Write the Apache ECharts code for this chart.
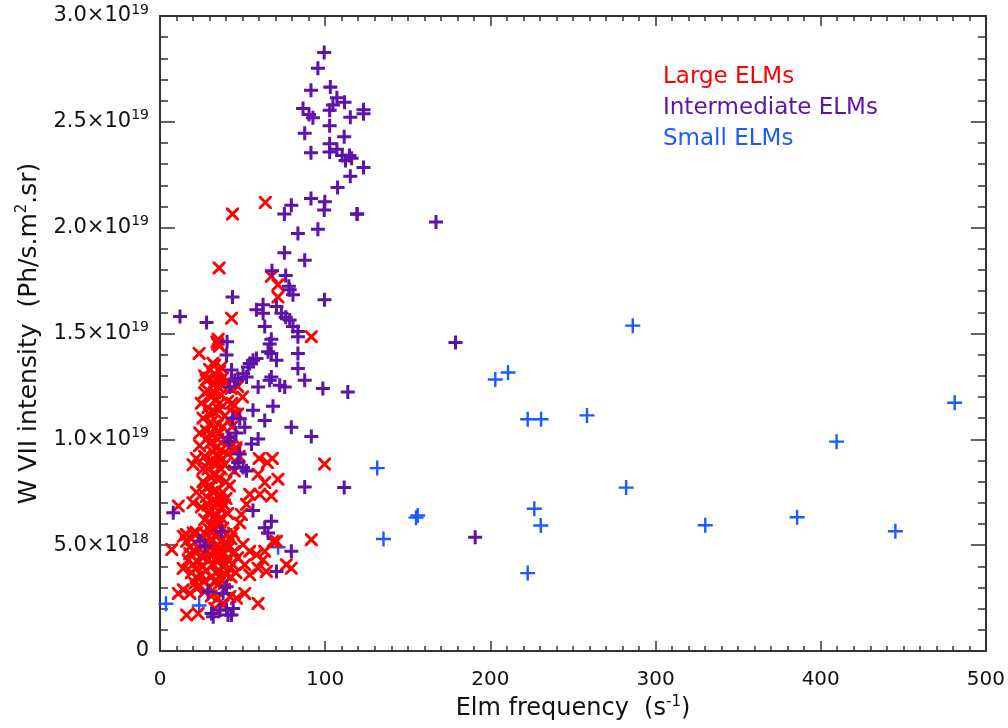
<!DOCTYPE html>
<html>
<head>
<meta charset="utf-8">
<script src="https://cdn.jsdelivr.net/npm/echarts@6/dist/echarts.min.js"></script>
<style>
html,body{margin:0;padding:0;background:#fff;}
#chart{width:1008px;height:728px;}
</style>
</head>
<body>
<div id="chart"></div>
<script>
// Intensity values are in units of 1e18 Ph/s.m^2.sr ; frequency in s^-1
const legendLabels = ['Large ELMs', 'Intermediate ELMs', 'Small ELMs'];
const seriesColors = ['#ff0000', '#5e12aa', '#1a5aff'];

const xTickLabels = ['0', '100', '200', '300', '400', '500'];
const yTickMantissa = ['0', '5.0×10', '1.0×10', '1.5×10', '2.0×10', '2.5×10', '3.0×10'];
const yTickExponent = ['', '18', '19', '19', '19', '19', '19'];

const largeElms = [
  [43.9,20.64],[63.8,21.19],[35.8,18.1],[43.3,15.72],[35.2,14.73],[35,14.5],[36,14.4],[34.5,14.6],[23.7,14.06],
  [67.4,17.7],[71.4,17.3],[71.4,16.72],[91.6,14.85],[99.6,8.83],[91.6,5.26],
  [59.4,8.35],[63.4,7.96],[71.4,8.12],[67.4,7.32],[54.3,7.4],[60.4,7.4],[52.4,6.93],[49.3,6.45],[48.3,6.05],
  [44.3,5.58],[41.2,5.03],[50.3,5.03],[54.3,4.71],[58.4,4.55],[62.4,4.31],[51.3,4.08],[59.4,3.91],[54.3,3.6],
  [64.4,3.76],[76.5,4.08],[79.5,3.91],[68.4,5.18],[70.5,5.18],[63.4,4.71],[51.3,2.72],[59.4,2.25],[42.3,2.57],
  [46.3,2.49],[38.2,2.17],[33.2,2.01],[16.1,1.7],[23.1,1.77],[11.1,2.72],[11.1,6.85],[7.1,4.79],[14.1,2.89],
  [18.1,2.72],[22.2,2.96],[14.1,5.42],[16.1,5.18],[20.1,5.58],
  [47,12.5],[43.5,11.7],[45,11.2],[43.5,10.6],[42,9.6],[46,9.6],[60,9.1],[68,9.1],[65,8.9],[20,8.8],[22,9.1],
  [30,13.3],[33,13.1],[36,13.2],[38,12.9],[28,12.8],[32,12.6],[35,12.5],[40,12.7],[43,12.4],[27,12.2],[31,12.0],
  [34,11.9],[37,12.1],[41,11.8],[45,11.6],[29,11.5],[33,11.3],[36,11.4],[39,11.1],[26,11.0],[31,10.8],[35,10.7],
  [42,10.9],[47,11.2],[50,12.0],
  [28,10.4],[32,10.2],[36,10.3],[39,10.0],[44,10.1],[30,9.8],[34,9.6],[37,9.5],[41,9.3],[27,9.2],[31,9.0],
  [35,8.9],[39,8.8],[46,9.5],[24,9.7],
  [29,8.6],[33,8.4],[36,8.2],[40,8.0],[26,8.0],[30,7.8],[34,7.6],[38,7.5],[42,7.8],[28,7.3],[32,7.1],[35,7.0],
  [39,6.9],[25,6.8],[30,6.6],[34,6.4],[37,6.3],[41,6.5],[27,6.2],[31,6.0],[35,5.9],[22,7.5],[20,7.0],[45,8.5],[48,9.2],
  [16,5.5],[19,5.3],[22,5.6],[25,5.4],[28,5.5],[31,5.3],[34,5.4],[37,5.2],[40,5.5],[43,5.3],[18,4.9],[21,4.7],
  [24,4.8],[27,4.6],[30,4.9],[33,4.7],[36,4.8],[39,4.6],[42,4.9],[45,4.7],[17,4.3],[20,4.1],[23,4.2],[26,4.0],
  [29,4.3],[32,4.1],[35,4.2],[38,4.0],[41,4.3],[44,4.1],[47,4.4],[19,3.7],[22,3.5],[25,3.6],[28,3.8],[31,3.5],
  [34,3.7],[37,3.4],[40,3.6],[43,3.5],[14,3.9],[24,3.1],[30,3.0],[36,3.2],[27,2.8],
  [30,12.9],[34,12.8],[37,12.6],[29,12.3],[33,12.2],[36,11.7],[30,11.2],[38,10.6],[33,10.5],[29,10.1],[35,10.0],
  [32,9.4],[36,9.2],[29,8.9],[33,8.8],[37,8.6],[31,8.2],[35,8.1],[28,7.7],[32,7.5],[36,7.3],[40,7.2],[29,6.9],
  [33,6.8],[37,6.7],[32,6.3],[36,6.1],[29,5.8],[33,5.7],[38,5.8],[27,5.1],[30,5.1],[35,5.0],[39,5.1],[26,4.4],
  [31,4.5],[34,4.4],[37,4.5],[40,4.1],[22,3.9],[27,3.3],[33,3.3],[39,3.2],[42,3.9],[35,3.8],[21,3.2],[18,4.6],
  [25,4.5],[44,4.6],[46,3.7],[31,2.6],[35,2.5],[39,2.9],[33,13.5],[37,13.4],[32,13.6],[27,13.0],[25,11.7],
  [24,10.3],[26,8.6]
];

const intermediateElms = [
  [99.4,28.27],[95.6,27.53],[91.4,26.49],[103.1,26.64],[107.1,26.14],[111.7,25.92],[86.6,25.63],[90.2,25.35],
  [92.6,25.19],[102.7,25.55],[104.7,25.79],[115.2,25.22],[123.2,25.57],[123.2,25.38],[102.7,24.81],[87.6,24.46],
  [111.5,24.3],[91.4,23.54],[102.7,23.97],[102.7,23.57],[107.1,23.7],[110.3,23.41],[114.7,23.41],[112.3,23.17],
  [116,23.28],[123.2,22.84],[115.2,22.43],[107.5,21.9],[91.4,21.38],[99.8,21.22],[99.4,20.84],[79.5,21.06],
  [75.3,20.65],[119.2,20.65],[83.5,19.73],[95.6,19.92],[75.3,18.82],[87.6,18.46],[67.8,17.96],[76.1,17.74],
  [78,17.23],[78.5,17.07],[80.5,16.83],[99.6,16.6],[62.4,16.36],[58.4,16.12],[62.4,15.96],[70.5,16.28],
  [73.5,15.96],[76.1,15.77],[78.5,15.64],[80.5,15.33],[83.5,15.09],[63.4,15.33],[67.4,14.73],[66.4,14.5],
  [83.5,14.85],[83.5,14.06],[67.4,14.06],[70.5,13.74],[58.4,13.82],[54.3,13.58],[83.5,13.35],[67.4,12.95],
  [43.9,16.72],[12.1,15.8],[28.2,15.52],[40.6,14.61],[65.4,14.14],[56.3,13.74],[53.3,13.42],[50.3,13.1],
  [47.3,12.87],[66.4,12.79],[72.5,12.55],[75.5,12.47],[59.4,12.47],[87.6,12.79],[98.6,12.4],[113.7,12.24],
  [52.4,12.95],[68.4,11.56],[56.3,11.37],[63.4,10.89],[51.3,10.57],[79.5,10.57],[59.4,10.02],[55.4,9.78],
  [91.6,10.13],[48.3,9.31],[47.3,8.91],[45.3,8.67],[40.3,13.98],[43.3,13.27],[45.3,12.79],
  [44,11.0],[46,10.3],[42,9.9],[42.3,12.47],[48.3,10.97],[41.2,10.1],
  [87.6,7.75],[111.5,7.72],[8.0,6.53],[56.3,6.64],[67.4,6.13],[63.4,5.82],[65.4,5.58],[79.5,4.71],[50.3,8.67],
  [52.4,8.51],[70.5,3.76],[44.3,2.01],[43.3,1.7],[40.3,1.94],[41.2,1.7],[32.2,1.62],[36.2,1.94],[31.2,1.77],
  [40.3,3.04],[38.2,2.72],[24.2,5.18],[27.2,4.95],[29.2,2.8],[37.2,5.66],
  [190.8,5.37],[167.1,20.27],[178.9,14.57],[119.4,20.64]
];

const smallElms = [
  [3.6,2.23],[23.7,2.15],[131.5,8.64],[135.3,5.29],[155,6.3],[156,6.4],[203,12.83],[210.7,13.16],[222.6,10.95],
  [230.7,10.95],[258.5,11.13],[286.2,15.37],[226.6,6.72],[230.5,5.93],[222.6,3.68],[282.2,7.72],[330.1,5.94],
  [385.7,6.32],[409.6,9.89],[445.2,5.66],[481.1,11.73],[71.5,4.9]
];

const plusThick = 'path://M0,7.85H20V12.15H0Z M7.85,0H12.15V20H7.85Z';
const plusThin = 'path://M0,8.4H20V11.6H0Z M8.4,0H11.6V20H8.4Z';
const crossPath = 'path://M3.2,0L20,16.8L20,20L16.8,20L0,3.2L0,0Z M16.8,0L20,0L20,3.2L3.2,20L0,20L0,16.8Z';

const axisColor = '#333';
const textColor = '#111';
const fontFam = '"DejaVu Sans", sans-serif';

function baseX(pos, showLabel) {
  return {
    type: 'value', position: pos, min: 0, max: 500, interval: 100,
    axisLine: { show: true, onZero: false, lineStyle: { color: axisColor, width: 2 } },
    axisTick: { show: true, inside: true, length: 10, lineStyle: { color: axisColor, width: 1.5 } },
    minorTick: { show: true, splitNumber: 10, length: 5, lineStyle: { color: axisColor, width: 1.5 } },
    splitLine: { show: false }, minorSplitLine: { show: false },
    axisLabel: {
      show: showLabel, margin: 19, color: textColor, fontSize: 20, fontFamily: fontFam,
      formatter: function (v) { return xTickLabels[Math.round(v / 100)]; }
    }
  };
}
function baseY(pos, showLabel) {
  return {
    type: 'value', position: pos, min: 0, max: 30, interval: 5,
    axisLine: { show: true, onZero: false, lineStyle: { color: axisColor, width: 2 } },
    axisTick: { show: true, inside: true, length: 15, lineStyle: { color: axisColor, width: 1.5 } },
    minorTick: { show: true, splitNumber: 5, length: 8, lineStyle: { color: axisColor, width: 1.5 } },
    splitLine: { show: false }, minorSplitLine: { show: false },
    axisLabel: {
      show: showLabel, margin: 11, color: textColor, fontFamily: fontFam,
      formatter: function (v) {
        const i = Math.round(v / 5);
        return yTickExponent[i] ? '{m|' + yTickMantissa[i] + '}{e|' + yTickExponent[i] + '}' : '{m|' + yTickMantissa[i] + '}';
      },
      rich: {
        m: { fontSize: 21, color: textColor, fontFamily: fontFam },
        e: { fontSize: 14, color: textColor, fontFamily: fontFam, padding: [0, 0, 12, 0] }
      }
    }
  };
}

const xMain = baseX('bottom', true);
xMain.name = '{n|Elm frequency  (s}{e|-1}{n|)}';
xMain.nameLocation = 'middle';
xMain.nameGap = 43;
xMain.nameTextStyle = {
  rich: {
    n: { fontSize: 24, color: textColor, fontFamily: fontFam },
    e: { fontSize: 15, color: textColor, fontFamily: fontFam, padding: [0, 0, 13, 0] }
  }
};
const yMain = baseY('left', true);
yMain.name = '{n|W VII intensity  (Ph/s.m}{e|2}{n|.sr)}';
yMain.nameLocation = 'middle';
yMain.nameGap = 117;
yMain.nameTextStyle = {
  rich: {
    n: { fontSize: 25, color: textColor, fontFamily: fontFam },
    e: { fontSize: 15, color: textColor, fontFamily: fontFam, padding: [0, 0, 13, 0] }
  }
};

const chart = echarts.init(document.getElementById('chart'), null, { renderer: 'canvas' });
chart.setOption({
  animation: false,
  backgroundColor: '#ffffff',
  grid: { left: 160, right: 20, top: 16, bottom: 77, containLabel: false },
  xAxis: [xMain, baseX('top', false)],
  yAxis: [yMain, baseY('right', false)],
  graphic: legendLabels.map(function (t, i) {
    return {
      type: 'text', left: 663, top: 66 + i * 31,
      style: { text: t, fill: seriesColors[i], font: '23px "DejaVu Sans"' }
    };
  }),
  series: [
    {
      name: legendLabels[2], type: 'scatter', xAxisIndex: 0, yAxisIndex: 0,
      data: smallElms, symbol: plusThin, symbolSize: 15,
      itemStyle: { color: seriesColors[2], opacity: 1 }
    },
    {
      name: legendLabels[0], type: 'scatter', xAxisIndex: 0, yAxisIndex: 0,
      data: largeElms, symbol: crossPath, symbolSize: 13,
      itemStyle: { color: seriesColors[0], opacity: 1 }
    },
    {
      name: legendLabels[1], type: 'scatter', xAxisIndex: 0, yAxisIndex: 0,
      data: intermediateElms, symbol: plusThick, symbolSize: 14,
      itemStyle: { color: seriesColors[1], opacity: 1 }
    }
  ]
});
</script>
</body>
</html>
